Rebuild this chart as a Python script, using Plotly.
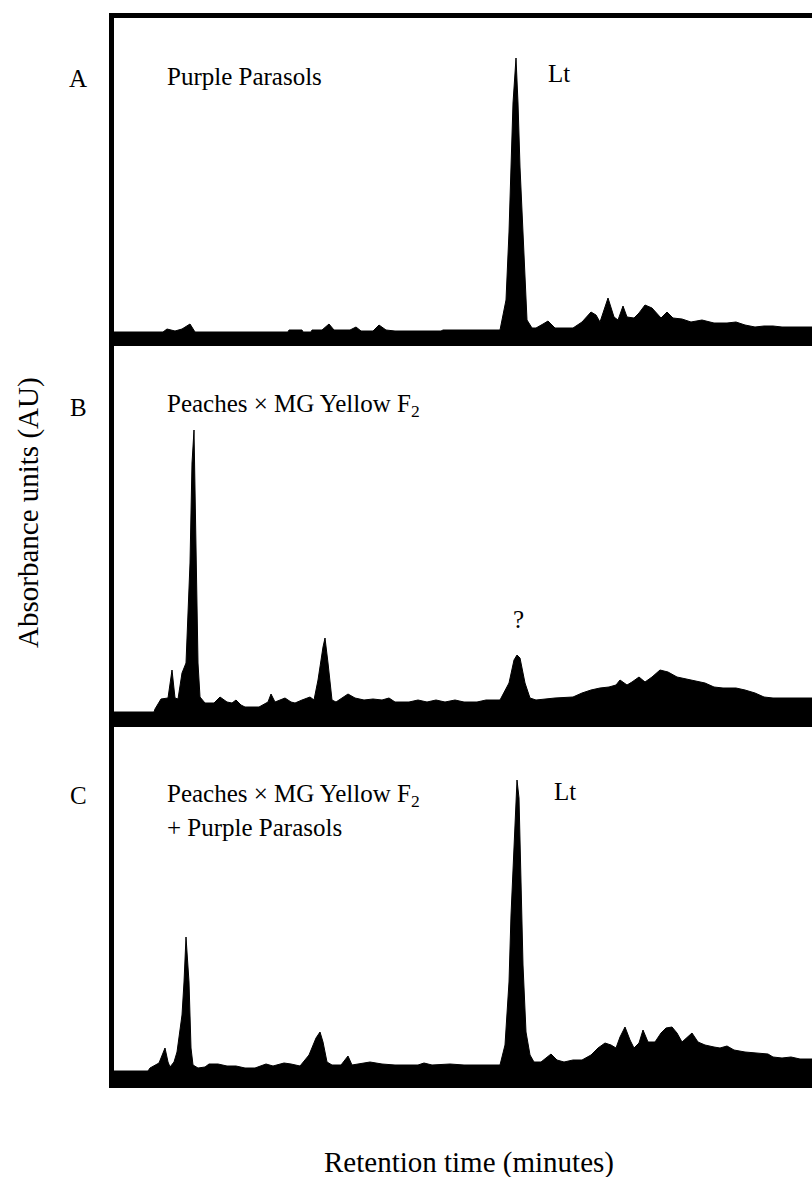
import plotly.graph_objects as go
from plotly.subplots import make_subplots

# ---------------- data (retention time in minutes, absorbance in arbitrary units) -------------
time_a = [0.25, 2.7, 2.9, 3.3, 3.65, 4.05, 4.3, 8.95, 9.0, 9.65, 9.7, 10.1, 10.15, 10.65, 11.0, 11.25,
          12.05, 12.35, 12.6, 13.2, 13.5, 13.85, 14.3, 15.45, 16.6, 16.7, 19.55, 19.85, 20.0, 20.1, 20.2,
          20.35, 20.45, 20.55, 20.7, 20.8, 20.9, 21.15, 21.35, 21.7, 21.95, 22.3, 23.2, 23.65, 24.1, 24.35,
          24.55, 24.95, 25.25, 25.45, 25.7, 25.9, 26.25, 26.5, 26.8, 27.15, 27.4, 27.6, 27.9, 28.2, 28.65,
          29.1, 29.65, 30.25, 30.9, 31.35, 31.8, 32.3, 32.75, 33.2, 33.65, 35.15]
abs_a = [0, 0, 3, 1, 3, 8, 0, 0, 2, 2, 0, 0, 2, 2, 8, 2,
         2, 5, 1, 1, 7, 2, 1, 1, 1, 2, 2, 32, 100, 165, 229,
         274, 229, 165, 99, 49, 12, 4, 4, 8, 11, 4, 4, 10, 20, 17,
         10, 34, 15, 12, 26, 15, 14, 19, 27, 24, 19, 14, 20, 14, 13,
         10, 12, 9, 9, 10, 7, 5, 6, 6, 5, 5]

time_b = [0.25, 2.25, 2.3, 2.6, 2.95, 3.15, 3.3, 3.45, 3.65, 3.85, 4.05, 4.15, 4.25, 4.35, 4.45, 4.55,
          4.8, 5.25, 5.55, 5.9, 6.15, 6.35, 6.6, 6.8, 7.5, 7.95, 8.1, 8.3, 8.55, 8.8, 9.1, 9.3, 9.65,
          10.05, 10.25, 10.45, 10.7, 10.8, 10.95, 11.15, 11.35, 11.95, 12.3, 12.75, 13.2, 13.65, 14.0,
          14.3, 15.0, 15.45, 15.9, 16.35, 16.8, 17.3, 17.75, 18.4, 18.85, 19.55, 20.0, 20.25, 20.4,
          20.55, 20.8, 21.05, 21.35, 22.3, 23.2, 23.65, 24.1, 24.55, 25.0, 25.35, 25.55, 25.9, 26.15,
          26.5, 26.8, 27.15, 27.55, 27.95, 28.4, 29.1, 29.8, 30.25, 30.7, 31.35, 31.8, 32.3, 32.75,
          33.2, 35.15]
abs_b = [0, 0, 3, 13, 14, 42, 14, 13, 39, 49, 149, 249, 282, 182, 49, 15,
         9, 9, 15, 10, 9, 12, 7, 5, 5, 10, 18, 10, 12, 14, 10, 9, 12,
         15, 12, 32, 65, 74, 49, 12, 10, 18, 14, 12, 13, 12, 14,
         10, 10, 12, 10, 12, 10, 12, 10, 10, 12, 12, 29, 52, 57,
         54, 29, 14, 12, 14, 15, 19, 22, 24, 25, 27, 32, 27, 30,
         35, 30, 35, 42, 40, 35, 32, 29, 25, 24, 24, 22, 19, 15,
         14, 14]

time_c = [0.25, 1.95, 2.05, 2.3, 2.5, 2.8, 2.95, 3.05, 3.25, 3.4, 3.65, 3.75, 3.85, 4.0, 4.1, 4.2,
          4.45, 4.8, 5.0, 5.45, 5.9, 6.35, 6.8, 7.3, 7.85, 8.2, 8.75, 9.1, 9.55, 10.0, 10.35, 10.55,
          10.7, 10.9, 11.15, 11.6, 11.95, 12.15, 12.5, 13.05, 13.65, 14.3, 15.45, 15.75, 16.15, 17.05,
          17.75, 18.85, 19.55, 19.8, 20.0, 20.1, 20.25, 20.35, 20.4, 20.5, 20.6, 20.7, 20.85, 21.05,
          21.25, 21.6, 22.1, 22.4, 22.75, 23.2, 23.65, 24.1, 24.45, 24.8, 25.1, 25.35, 25.55, 25.8,
          26.05, 26.25, 26.5, 26.7, 26.95, 27.3, 27.6, 27.85, 28.15, 28.4, 28.65, 28.85, 29.15, 29.45,
          29.8, 30.25, 30.55, 30.9, 31.25, 31.8, 32.3, 32.95, 33.2, 33.65, 34.1, 34.55, 35.15]
abs_c = [0, 0, 3, 6, 8, 23, 9, 4, 9, 19, 56, 89, 134, 89, 23, 6,
         3, 4, 7, 7, 5, 5, 3, 3, 7, 5, 8, 7, 5, 16, 33, 39,
         29, 9, 6, 6, 15, 6, 7, 9, 7, 6, 6, 8, 6, 7,
         6, 6, 6, 26, 89, 156, 223, 273, 291, 273, 189, 106, 39, 16,
         9, 9, 17, 11, 9, 11, 11, 16, 23, 28, 26, 23, 34, 44,
         31, 23, 28, 41, 29, 29, 38, 43, 44, 38, 29, 33, 38, 29,
         26, 24, 23, 25, 21, 19, 18, 17, 14, 13, 14, 12, 12]

panel_letters = ["A", "B", "C"]
sample_names = ["Purple Parasols",
                "Peaches × MG Yellow F<sub>2</sub>",
                "Peaches × MG Yellow F<sub>2</sub>"]
sample_name_c2 = "+ Purple Parasols"
peak_labels = ["Lt", "?", "Lt"]
x_title = "Retention time (minutes)"
y_title = "Absorbance units (AU)"

# ---------------- layout geometry ----------------
W, H = 812, 1177
ML, MT, MB, MR = 109, 13, 89, 0
PW, PH = W - ML - MR, H - MT - MB
x_range = [0, 35.15]
y_ranges = [[-14, 319], [-15, 366], [-17, 344]]
row_h = [r[1] - r[0] for r in y_ranges]

FONT = "Liberation Serif, Times New Roman, serif"


def px(x):
    return (x - ML) / PW


def py(y):
    return (H - MB - y) / PH


fig = make_subplots(rows=3, cols=1, shared_xaxes=True, vertical_spacing=0,
                    row_heights=row_h)

for i, (t, a) in enumerate([(time_a, abs_a), (time_b, abs_b), (time_c, abs_c)]):
    fig.add_trace(go.Scatter(x=t, y=a, mode="lines", fill="tozeroy",
                             fillcolor="black", line=dict(color="black", width=1),
                             hoverinfo="skip", showlegend=False), row=i + 1, col=1)

for i in range(3):
    fig.update_yaxes(range=y_ranges[i], visible=False, row=i + 1, col=1)
    fig.update_xaxes(range=x_range, visible=False, row=i + 1, col=1)

shapes = []
# thick baselines under each chromatogram
for i, yref in enumerate(["y", "y2", "y3"]):
    shapes.append(dict(type="rect", xref="paper", yref=yref, x0=0, x1=1,
                       y0=y_ranges[i][0], y1=0, fillcolor="black", line=dict(width=0),
                       layer="above"))
# frame: top and left thick borders
shapes.append(dict(type="rect", xref="paper", yref="paper", x0=0, x1=1,
                   y0=1 - 5 / PH, y1=1, fillcolor="black", line=dict(width=0)))
shapes.append(dict(type="rect", xref="paper", yref="paper", x0=0, x1=5 / PW,
                   y0=0, y1=1, fillcolor="black", line=dict(width=0)))

ann = []
f25 = dict(family=FONT, size=25, color="black")
letter_y = [78, 407, 795]
name_y = [77, 406, 795]
for i in range(3):
    ann.append(dict(text=panel_letters[i], xref="paper", yref="paper", x=px(78), y=py(letter_y[i]),
                    xanchor="center", yanchor="middle", showarrow=False, font=f25))
    ann.append(dict(text=sample_names[i], xref="paper", yref="paper", x=px(165), y=py(name_y[i]),
                    xanchor="left", yanchor="middle", showarrow=False, font=f25))
ann.append(dict(text=sample_name_c2, xref="paper", yref="paper", x=px(165), y=py(827),
                xanchor="left", yanchor="middle", showarrow=False, font=f25))

# peak labels in data coordinates
ann.append(dict(text=peak_labels[0], xref="x", yref="y", x=21.85, y=259,
                xanchor="left", yanchor="middle", showarrow=False, font=f25))
ann.append(dict(text=peak_labels[1], xref="x2", yref="y2", x=20.45, y=92,
                xanchor="center", yanchor="middle", showarrow=False, font=f25))
ann.append(dict(text=peak_labels[2], xref="x3", yref="y3", x=22.15, y=279,
                xanchor="left", yanchor="middle", showarrow=False, font=f25))

# axis titles
ann.append(dict(text=x_title, xref="paper", yref="paper", x=px(469), y=py(1162),
                xanchor="center", yanchor="middle", showarrow=False,
                font=dict(family=FONT, size=29, color="black")))
ann.append(dict(text=y_title, xref="paper", yref="paper", x=px(28), y=py(513),
                xanchor="center", yanchor="middle", showarrow=False, textangle=-90,
                font=dict(family=FONT, size=29, color="black")))

fig.update_layout(width=W, height=H, margin=dict(l=ML, r=MR, t=MT, b=MB, pad=0),
                  paper_bgcolor="white", plot_bgcolor="white",
                  shapes=shapes, annotations=ann, showlegend=False)

fig.write_html("out.html", config={"displayModeBar": False},
               post_script="document.body.style.margin='0';document.body.style.padding='0';"
                           "document.body.style.overflow='hidden';")
